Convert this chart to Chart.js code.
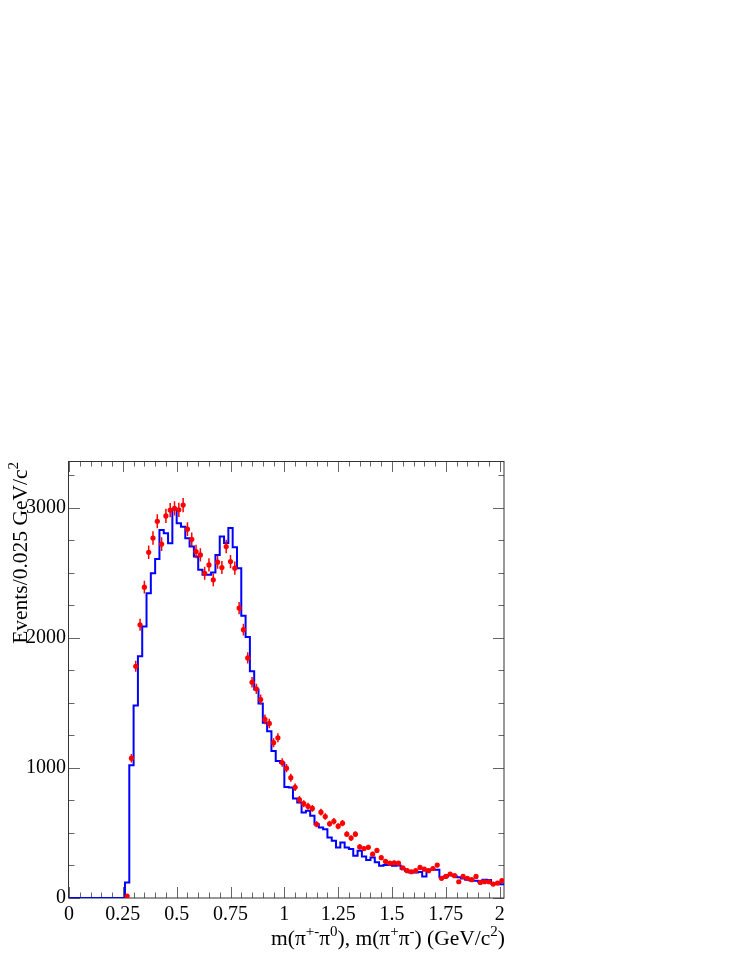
<!DOCTYPE html>
<html><head><meta charset="utf-8">
<script src="https://cdn.jsdelivr.net/npm/chart.js@4.4.1/dist/chart.umd.min.js"></script>
<style>html,body{margin:0;padding:0;background:#fff;} #wrap{width:747px;height:967px;position:relative;}</style>
</head><body><div id="wrap"><canvas id="c"></canvas></div>
<script>
// ---- data ----
const binWidth = 0.02;              // GeV/c^2, bins start at 0
const mcCounts = [
  0,0,0,0,0,0,0,0,0,0,0,0,0,120,1020,1480,1858,2088,2344,2497,
  2607,2830,2804,2728,2991,2881,2855,2766,2702,2625,2523,2485,2485,2502,2638,2780,2730,2845,2697,2536,
  2170,2007,1743,1603,1495,1347,1283,1130,1053,1040,854,849,765,734,657,670,632,567,542,529,
  465,440,389,427,389,376,325,363,320,292,312,274,248,253,253,248,250,225,209,197,
  197,200,166,217,217,217,159,165,176,172,160,150,140,135,133,125,140,138,110,107,
  105
];
const dataCounts = [
  null,null,null,null,null,null,null,null,null,null,null,null,null,15,1075,1782,2101,2390,2658,2768,
  2896,2721,2938,2983,2996,2985,3021,2836,2758,2664,2638,2497,2561,2446,2582,2541,2702,2587,2536,2229,
  2063,1846,1659,1608,1526,1373,1342,1194,1232,1042,998,925,851,756,725,705,689,567,660,626,
  571,590,552,575,491,461,491,393,380,390,337,366,310,281,268,270,268,231,210,202,
  210,235,222,210,227,253,151,166,184,172,125,166,151,141,166,120,125,125,107,115,
  133
];
const xTickValues = [0,0.25,0.5,0.75,1,1.25,1.5,1.75,2];
const xTickLabels = ['0','0.25','0.5','0.75','1','1.25','1.5','1.75','2'];
const yTickValues = [0,1000,2000,3000];
const yTickLabels = ['0','1000','2000','3000'];
const xRange = [0, 2.02];
const yRange = [0, 3360];
const xTitle = [['m(\u03c0',0],['+-',1],['\u03c0',0],['0',1],['), m(\u03c0',0],['+',1],['\u03c0',0],['-',1],[') (GeV/c',0],['2',1],[')',0]];
const yTitle = [['Events/0.025 GeV/c',0],['2',1]];

// ---- build datasets from the arrays ----
const mcPoints = mcCounts.map((v,i)=>({x: i*binWidth, y: v}));
mcPoints.push({x: mcCounts.length*binWidth, y: mcCounts[mcCounts.length-1]});
const dataPoints = [];
dataCounts.forEach((v,i)=>{ if (v !== null) dataPoints.push({x:(i+0.5)*binWidth, y:v}); });

const FONT = '"Liberation Serif", "Times New Roman", serif';

function drawRich(ctx, segs, x, y, align){
  const base = '21.5px ' + FONT, sup = '15px ' + FONT;
  let w = 0;
  segs.forEach(([t,s])=>{ ctx.font = s?sup:base; w += ctx.measureText(t).width; });
  let cx = align === 'right' ? x - w : x;
  ctx.textAlign = 'left'; ctx.textBaseline = 'alphabetic'; ctx.fillStyle = '#000';
  segs.forEach(([t,s])=>{ ctx.font = s?sup:base; ctx.fillText(t, cx, s ? y-9 : y); cx += ctx.measureText(t).width; });
}

const rootAxes = {
  id: 'rootAxes',
  beforeDatasetsDraw(chart){
    const {ctx, chartArea:a, scales:{x,y}} = chart;
    ctx.save();
    ctx.strokeStyle = '#666'; ctx.lineWidth = 1;
    ctx.beginPath();
    for (let k=0; k*0.05 <= xRange[1]+1e-9; k++){
      const v = k*0.05, px = Math.round(x.getPixelForValue(v))+0.5;
      const len = (k%5===0) ? 11 : 5.5;
      ctx.moveTo(px, a.bottom); ctx.lineTo(px, a.bottom-len);
      ctx.moveTo(px, a.top); ctx.lineTo(px, a.top+len);
    }
    for (let k=0; k*250 <= yRange[1]; k++){
      const v = k*250, py = Math.round(y.getPixelForValue(v))+0.5;
      const len = (k%4===0) ? 11 : 5.5;
      ctx.moveTo(a.left, py); ctx.lineTo(a.left+len, py);
      ctx.moveTo(a.right, py); ctx.lineTo(a.right-len, py);
    }
    ctx.stroke();
    ctx.strokeStyle = '#333';
    ctx.strokeRect(Math.round(a.left)-0.5, Math.round(a.top)+0.5, Math.round(a.right-a.left)+0.5, Math.round(a.bottom-a.top)-0.5);
    ctx.restore();
  },
  beforeDatasetDraw(chart, args){
    if (args.index !== 0) return;
    const {ctx, chartArea:a, scales:{x,y}} = chart;
    ctx.save();
    ctx.beginPath(); ctx.rect(a.left, a.top, a.right-a.left, a.bottom-a.top); ctx.clip();
    ctx.strokeStyle = '#ff0000'; ctx.lineWidth = 1.5;
    ctx.beginPath();
    dataPoints.forEach(p=>{
      const e = Math.sqrt(p.y);
      const px = x.getPixelForValue(p.x);
      ctx.moveTo(px, y.getPixelForValue(p.y - e));
      ctx.lineTo(px, y.getPixelForValue(p.y + e));
    });
    ctx.stroke();
    ctx.restore();
  },
  afterDraw(chart){
    const {ctx, chartArea:a} = chart;
    ctx.save();
    drawRich(ctx, xTitle, a.right+1, 945, 'right');
    ctx.translate(27, a.top+1);
    ctx.rotate(-Math.PI/2);
    drawRich(ctx, yTitle, 0, 0, 'right');
    ctx.restore();
  }
};

new Chart(document.getElementById('c'), {
  type: 'scatter',
  data: { datasets: [
    { label: 'data', data: dataPoints, order: 0, showLine: false,
      pointRadius: 2.6, pointHoverRadius: 2.6, backgroundColor: '#ff0000', borderWidth: 0, pointStyle: 'circle' },
    { label: 'MC', data: mcPoints, order: 1, showLine: true, stepped: 'before',
      borderColor: '#0000ff', borderWidth: 2, pointRadius: 0, fill: false, tension: 0 }
  ]},
  options: {
    responsive: true, maintainAspectRatio: false, animation: false,
    events: [],
    layout: { padding: { top: 461, right: 243, left: 0, bottom: 0 } },
    plugins: { legend: { display: false }, tooltip: { enabled: false } },
    scales: {
      x: { type: 'linear', min: xRange[0], max: xRange[1],
        afterBuildTicks: s => { s.ticks = xTickValues.map(v=>({value:v})); },
        afterFit: s => { s.height = 69; },
        grid: { display: false, drawTicks: false }, border: { display: false },
        ticks: { autoSkip: false, maxRotation: 0, padding: 5, color: '#000',
          font: { family: FONT, size: 20 },
          callback: v => xTickLabels[xTickValues.indexOf(v)] } },
      y: { type: 'linear', min: yRange[0], max: yRange[1],
        afterBuildTicks: s => { s.ticks = yTickValues.map(v=>({value:v})); },
        afterFit: s => { s.width = 69; },
        grid: { display: false, drawTicks: false }, border: { display: false },
        ticks: { autoSkip: false, padding: 3, color: '#000',
          font: { family: FONT, size: 20 },
          callback: v => yTickLabels[yTickValues.indexOf(v)] } }
    }
  },
  plugins: [rootAxes]
});
</script>
</body></html>
